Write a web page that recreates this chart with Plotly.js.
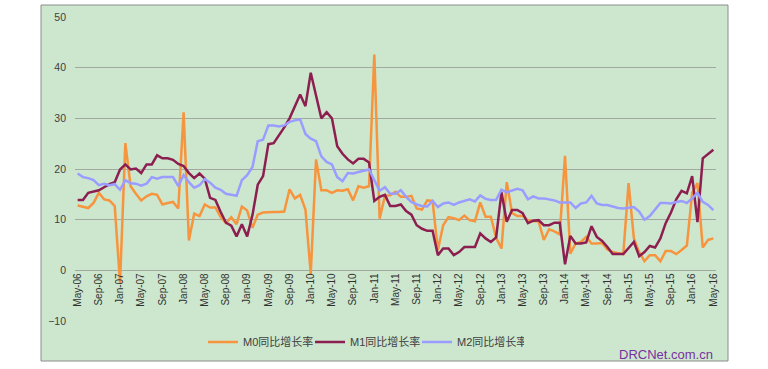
<!DOCTYPE html>
<html>
<head>
<meta charset="utf-8">
<script src="https://cdn.plot.ly/plotly-3.0.1.min.js"></script>
<style>html,body{margin:0;padding:0;background:#fff;}#chart{width:768px;height:369px;}</style>
</head>
<body>
<div id="chart"></div>
<script>
// Monthly categories May-06 .. May-16
const monthNames = ["Jan","Feb","Mar","Apr","May","Jun","Jul","Aug","Sep","Oct","Nov","Dec"];
const startYear = 2006, startMonth = 4, monthCount = 121;
const months = [];
for (let k = 0; k < monthCount; k++) {
  const m = (startMonth + k) % 12;
  const y = startYear + Math.floor((startMonth + k) / 12);
  months.push(monthNames[m] + "-" + String(y % 100).padStart(2, "0"));
}
const tickLabels = months.filter((_, k) => k % 4 === 0);

const seriesNames = ["M0同比增长率", "M1同比增长率", "M2同比增长率"];

const m0 = [
12.8, 12.6, 12.3, 13.3, 15.3, 14.0, 13.8, 12.7,
-2.5, 25.1, 16.6, 15.1, 13.8, 14.6, 15.1, 14.9, 13.0, 13.3, 13.5, 12.2,
31.2, 5.9, 11.2, 10.7, 13.0, 12.4, 12.4, 10.5, 9.3, 10.5, 9.1, 12.6,
11.8, 8.4, 11.0, 11.4, 11.5, 11.5, 11.5, 11.6, 16.0, 14.2, 14.9, 12.0,
-0.7, 21.9, 15.8, 15.8, 15.3, 15.8, 15.7, 16.0, 13.8, 16.6, 16.3, 16.6,
42.6, 10.2, 14.7, 14.8, 15.5, 14.5, 14.5, 14.7, 12.2, 12.0, 13.8, 13.7,
4.0, 8.9, 10.5, 10.3, 9.9, 10.8, 9.9, 9.7, 13.4, 10.6, 10.6, 6.4,
4.3, 17.4, 11.3, 10.7, 10.7, 9.9, 9.7, 9.7, 6.0, 8.1, 7.7, 7.1,
22.6, 3.3, 5.3, 5.6, 6.6, 5.3, 5.3, 5.4, 4.1, 3.6, 3.4, 3.2,
17.2, 6.3, 3.6, 1.8, 3.0, 3.0, 1.8, 3.8, 3.8, 3.2, 4.0, 4.9,
15.3, 17.2, 4.5, 6.0, 6.3
];
const m1 = [
13.9, 13.9, 15.3, 15.6, 15.8, 16.4, 17.0, 17.4,
19.9, 20.9, 19.9, 20.1, 19.2, 20.9, 20.9, 22.7, 22.1, 22.1, 21.8, 21.0,
20.6, 19.2, 18.2, 19.1, 18.1, 14.3, 13.9, 11.5, 9.4, 8.8, 6.7, 9.1,
6.7, 10.9, 16.9, 18.6, 24.9, 25.1, 26.6, 28.2, 30.0, 32.3, 34.7, 32.4,
39.0, 34.5, 30.0, 31.2, 30.0, 24.5, 23.0, 21.9, 21.1, 22.0, 22.0, 21.3,
13.7, 14.5, 14.9, 12.7, 12.7, 13.0, 11.7, 11.0, 8.9, 8.2, 7.8, 7.8,
3.0, 4.3, 4.3, 3.0, 3.6, 4.6, 4.6, 4.6, 7.3, 6.3, 5.6, 6.5,
15.4, 9.6, 11.9, 11.9, 11.3, 9.3, 9.8, 9.9, 8.9, 8.9, 9.4, 9.4,
1.2, 6.8, 5.3, 5.3, 5.5, 8.7, 6.6, 5.8, 4.6, 3.2, 3.2, 3.2,
4.4, 5.6, 2.8, 3.6, 4.8, 4.5, 6.3, 9.3, 11.4, 14.0, 15.7, 15.2,
18.6, 9.5, 22.1, 22.9, 23.8
];
const m2 = [
19.1, 18.4, 18.2, 17.8, 16.8, 17.1, 16.8, 17.0,
15.9, 17.8, 17.2, 17.1, 16.7, 17.1, 18.4, 18.1, 18.4, 18.4, 18.4, 16.6,
18.8, 17.4, 16.3, 16.8, 18.0, 17.3, 16.3, 15.9, 15.1, 14.9, 14.7, 17.8,
18.8, 20.4, 25.5, 25.8, 28.6, 28.6, 28.4, 28.6, 29.3, 29.6, 29.8, 26.9,
26.0, 25.5, 22.5, 21.4, 20.9, 18.4, 17.6, 19.2, 19.1, 19.4, 19.6, 19.9,
17.8, 15.7, 16.4, 15.1, 15.1, 15.8, 14.5, 13.5, 13.0, 12.7, 12.6, 13.7,
12.5, 13.2, 13.4, 12.9, 13.4, 13.7, 14.0, 13.6, 14.8, 14.1, 13.9, 13.9,
15.9, 15.4, 15.8, 16.1, 15.8, 14.0, 14.6, 14.2, 14.2, 14.0, 13.8, 13.4,
13.4, 13.4, 12.3, 13.2, 13.4, 14.7, 13.2, 12.9, 12.9, 12.6, 12.3, 12.2,
12.3, 12.5, 11.6, 10.0, 10.7, 11.9, 13.3, 13.3, 13.2, 13.5, 13.7, 13.3,
14.2, 15.3, 13.5, 12.9, 11.9
];
const yTicks = [-10, 0, 10, 20, 30, 40, 50];

const colors = ["#F7943E", "#8C1E50", "#9A9CFF"];
const seriesData = [m0, m1, m2];

const traces = seriesData.map((vals, s) => ({
  type: "scatter",
  mode: "lines",
  x: months,
  y: vals,
  name: seriesNames[s],
  line: {color: colors[s], width: 2.5},
  hoverinfo: "skip"
}));

const W = 768, H = 369;
const ml = 75, mr = 52, mt = 17, mb = 48;
const pw = W - ml - mr, ph = H - mt - mb;
const px2x = px => (px - ml) / pw;
const py2y = py => (H - mb - py) / ph;

const gridColor = "#A2A8A2";
const tickFont = {family: "Liberation Sans, Arial, sans-serif", size: 10.5, color: "#404040"};

const layout = {
  width: W, height: H,
  margin: {l: ml, r: mr, t: mt, b: mb, pad: 0},
  paper_bgcolor: "#ffffff",
  plot_bgcolor: "rgba(0,0,0,0)",
  showlegend: true,
  xaxis: {
    type: "category",
    range: [-0.5, monthCount - 0.5],
    anchor: "free",
    position: 10 / 60,
    tickmode: "array",
    tickvals: tickLabels,
    ticktext: tickLabels,
    tickangle: -90,
    ticks: "",
    showgrid: false,
    showline: false,
    zeroline: false,
    automargin: false,
    tickfont: {family: "Liberation Sans, Arial, sans-serif", size: 10, color: "#303030"},
    fixedrange: true
  },
  yaxis: {
    range: [-10, 50],
    tickmode: "array",
    tickvals: yTicks,
    ticks: "",
    showgrid: true,
    gridcolor: gridColor,
    gridwidth: 1,
    zeroline: true,
    zerolinecolor: gridColor,
    zerolinewidth: 1,
    showline: false,
    ticklabelstandoff: 8,
    automargin: false,
    tickfont: tickFont,
    fixedrange: true
  },
  legend: {
    orientation: "h",
    x: px2x(203), xanchor: "left",
    y: py2y(342), yanchor: "middle",
    bgcolor: "rgba(0,0,0,0)",
    entrywidth: 62, entrywidthmode: "pixels",
    font: {family: "Liberation Sans, Noto Sans CJK SC, sans-serif", size: 11, color: "#404040"},
    itemclick: false, itemdoubleclick: false
  },
  shapes: [{
    type: "rect", xref: "paper", yref: "paper", layer: "below",
    x0: px2x(41), x1: px2x(728), y0: py2y(361), y1: py2y(5),
    fillcolor: "#CDE7CE",
    line: {color: "#8C8C8C", width: 1}
  }],
  annotations: [{
    xref: "paper", yref: "paper",
    x: px2x(666), y: py2y(354),
    xanchor: "center", yanchor: "middle",
    text: "DRCNet.com.cn",
    showarrow: false,
    font: {family: "Liberation Sans, Arial, sans-serif", size: 13, color: "#7A2FA0"}
  }]
};

Plotly.newPlot("chart", traces, layout, {displayModeBar: false, staticPlot: true});
</script>
</body>
</html>
